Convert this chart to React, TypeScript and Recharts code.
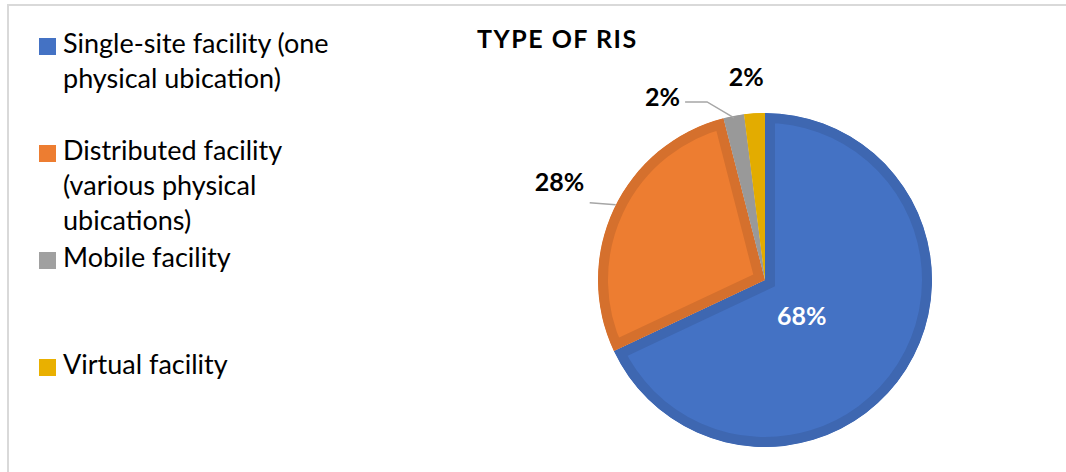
import React from 'react'
import { PieChart, Pie, Cell, Sector } from 'recharts'

// Type of RIS, share of answers (%)
const categories = [
  'Single-site facility (one physical ubication)',
  'Distributed facility (various physical ubications)',
  'Mobile facility',
  'Virtual facility',
]
const shares = [68, 28, 2, 2]
const fillColors = ['#4472C4', '#ED7D31', '#A0A0A0', '#E9B000']
const rimColors = ['#3E67B1', '#D5702D', '#999999', '#E3AC00']

const data = categories.map((name, i) => ({ name, value: shares[i] }))

const FONT = 'Lato, "Noto Sans", sans-serif'
const RADIAN = Math.PI / 180

// slice with a darker band drawn just inside its edge
const RimSector = (props: any) => {
  const { cx, cy, innerRadius, outerRadius, startAngle, endAngle, index } = props
  const geo = { cx, cy, innerRadius, outerRadius, startAngle, endAngle }
  const clipId = `rim-clip-${index}`
  return (
    <g>
      <defs>
        <clipPath id={clipId}>
          <Sector {...geo} />
        </clipPath>
      </defs>
      <Sector
        {...geo}
        fill={fillColors[index]}
        stroke={rimColors[index]}
        strokeWidth={20}
        clipPath={`url(#${clipId})`}
      />
    </g>
  )
}

const renderLabel = (p: any) => {
  const { cx, cy, midAngle, outerRadius, index, percent } = p
  const cos = Math.cos(-midAngle * RADIAN)
  const sin = Math.sin(-midAngle * RADIAN)
  const text = `${Math.round(percent * 100)}%`
  const labelStyle = { fontFamily: FONT, fontWeight: 700, fontSize: 25 }

  if (index === 0) {
    const r = outerRadius * 0.31
    return (
      <text x={cx + r * cos - 7} y={cy + r * sin + 7} fill="#ffffff" textAnchor="middle"
        dominantBaseline="central" style={labelStyle}>
        {text}
      </text>
    )
  }

  const ex = cx + (outerRadius - 2) * cos
  const ey = cy + (outerRadius - 2) * sin

  if (index === 1) {
    const r = outerRadius + 58
    return (
      <g>
        <polyline points={`${ex},${ey - 5} ${ex - 26},${ey - 7}`} fill="none" stroke="#A6A6A6" strokeWidth={1.5} />
        <text x={cx + r * cos - 2} y={cy + r * sin - 3} fill="#000" textAnchor="middle"
          dominantBaseline="central" style={labelStyle}>
          {text}
        </text>
      </g>
    )
  }

  if (index === 2) {
    const bx = ex - 27
    const by = ey - 16
    return (
      <g>
        <polyline points={`${ex},${ey} ${bx},${by} ${bx - 22},${by}`} fill="none" stroke="#A6A6A6" strokeWidth={1.5} />
        <text x={bx - 27} y={by - 6} fill="#000" textAnchor="end"
          dominantBaseline="central" style={labelStyle}>
          {text}
        </text>
      </g>
    )
  }

  const r = outerRadius + 37
  return (
    <text x={cx + r * cos - 6} y={cy + r * sin} fill="#000" textAnchor="middle"
      dominantBaseline="central" style={labelStyle}>
      {text}
    </text>
  )
}

function ChartLegend() {
  return (
    <div style={{ position: 'absolute', left: 39, top: 25, fontFamily: FONT }}>
      {categories.map((name, i) => (
        <div key={name} style={{ height: 107, display: 'flex', alignItems: 'flex-start' }}>
          <div style={{ width: 17, height: 17, marginTop: 13, marginRight: 7, flex: 'none', background: fillColors[i] }} />
          <div style={{ width: 285, fontSize: 27, lineHeight: '35px', color: '#000' }}>{name}</div>
        </div>
      ))}
    </div>
  )
}

export default function App() {
  return (
    <div style={{ position: 'absolute', left: 0, top: 0, width: 1066, height: 472, background: '#fff', overflow: 'hidden' }}>
      <div style={{ position: 'absolute', left: 7, top: 4, width: 1100, height: 500,
        borderTop: '2px solid #D9D9D9', borderLeft: '2px solid #D9D9D9' }} />
      <div style={{ position: 'absolute', left: 477, top: 23, fontFamily: FONT, fontWeight: 700,
        fontSize: 25, letterSpacing: 1.5, color: '#000', lineHeight: '30px' }}>
        TYPE OF RIS
      </div>
      <ChartLegend />
      <PieChart width={1066} height={472} margin={{ top: 0, right: 0, bottom: 0, left: 0 }}
        style={{ position: 'absolute', left: 0, top: 0 }}>
        <Pie
          data={data}
          dataKey="value"
          nameKey="name"
          cx={765}
          cy={280}
          outerRadius={167}
          startAngle={90}
          endAngle={-270}
          stroke="none"
          shape={RimSector}
          label={renderLabel}
          labelLine={false}
          isAnimationActive={false}
        >
          {data.map((d, i) => (
            <Cell key={d.name} fill={fillColors[i]} />
          ))}
        </Pie>
      </PieChart>
    </div>
  )
}
